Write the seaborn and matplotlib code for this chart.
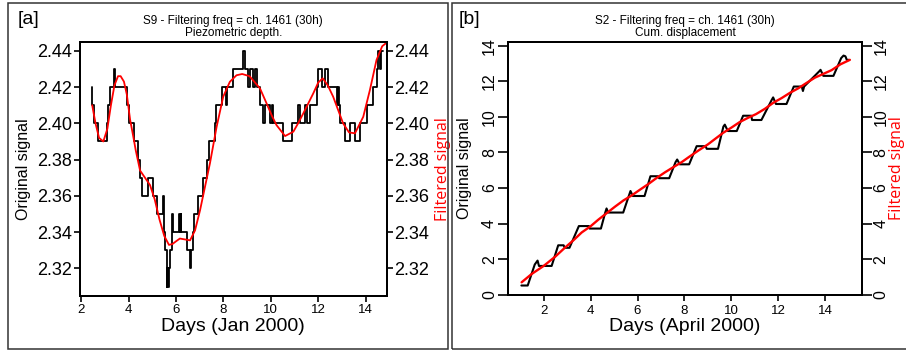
import matplotlib
matplotlib.use("Agg")
import matplotlib.pyplot as plt
import seaborn as sns
import pandas as pd
from matplotlib.patches import Rectangle

# ---------------- data ----------------
# Panel [a] : S9 piezometric depth (original, step signal)
s9_days = [2.44, 2.46, 2.54, 2.69, 3.07, 3.14, 3.21, 3.38, 3.42, 3.92, 4.03, 4.22, 4.41, 4.48, 4.55,
           4.83, 5.04, 5.18, 5.44, 5.48, 5.52, 5.60, 5.63, 5.66, 5.70, 5.74, 5.82, 5.86, 6.12, 6.15,
           6.19, 6.22, 6.45, 6.58, 6.62, 6.70, 6.76, 6.92, 7.13, 7.32, 7.40, 7.64, 7.68, 7.92, 8.10,
           8.16, 8.41, 8.81, 8.91, 9.05, 9.12, 9.26, 9.33, 9.40, 9.54, 9.68, 9.75, 9.96, 10.03, 10.10,
           10.52, 10.88, 11.16, 11.23, 11.44, 11.51, 11.65, 11.93, 12.00, 12.14, 12.28, 12.42, 12.78,
           12.82, 12.87, 12.92, 13.13, 13.34, 13.55, 13.76, 14.04, 14.32, 14.46, 14.53, 14.60, 14.67, 14.72]
s9_vals = [2.42, 2.41, 2.40, 2.39, 2.40, 2.41, 2.42, 2.43, 2.42, 2.41, 2.40, 2.39, 2.38, 2.37, 2.36,
           2.37, 2.36, 2.35, 2.36, 2.34, 2.33, 2.31, 2.32, 2.31, 2.32, 2.33, 2.35, 2.34, 2.35, 2.34,
           2.35, 2.34, 2.33, 2.32, 2.33, 2.34, 2.35, 2.36, 2.37, 2.38, 2.39, 2.40, 2.41, 2.42, 2.41,
           2.42, 2.43, 2.44, 2.43, 2.42, 2.43, 2.42, 2.43, 2.42, 2.41, 2.40, 2.41, 2.40, 2.41, 2.40,
           2.39, 2.40, 2.41, 2.40, 2.41, 2.40, 2.41, 2.42, 2.43, 2.42, 2.43, 2.42, 2.41,
           2.42, 2.41, 2.40, 2.39, 2.40, 2.39, 2.40, 2.41, 2.42, 2.43, 2.44, 2.43, 2.44, 2.44]
# Panel [a] : filtered signal
s9f_days = [2.46, 2.60, 2.75, 2.93, 3.10, 3.25, 3.40, 3.55, 3.66, 3.80, 3.92, 4.06, 4.19, 4.30, 4.48,
            4.69, 4.90, 5.10, 5.30, 5.50, 5.70, 5.85, 6.00, 6.16, 6.38, 6.59, 6.80, 7.01, 7.22, 7.43,
            7.71, 7.99, 8.27, 8.55, 8.79, 9.10, 9.54, 9.82, 10.05, 10.24, 10.60, 10.95, 11.15, 11.37,
            11.79, 12.00, 12.19, 12.40, 12.63, 13.05, 13.30, 13.55, 13.90, 14.18, 14.46, 14.70, 14.89]
s9f_vals = [2.410, 2.400, 2.392, 2.390, 2.397, 2.410, 2.421, 2.426, 2.426, 2.423, 2.416, 2.402, 2.393,
            2.385, 2.374, 2.370, 2.366, 2.358, 2.347, 2.338, 2.333, 2.3335, 2.335, 2.3365, 2.336,
            2.3355, 2.341, 2.352, 2.365, 2.378, 2.398, 2.4147, 2.4229, 2.4265, 2.4272, 2.426, 2.4193,
            2.411, 2.404, 2.399, 2.393, 2.3954, 2.400, 2.4055, 2.4165, 2.4225, 2.4248, 2.421, 2.4147,
            2.400, 2.395, 2.3945, 2.4036, 2.4183, 2.4349, 2.4425, 2.4445]

# Panel [b] : S2 cumulative displacement (original)
s2_days = [1.05, 1.32, 1.62, 1.74, 1.80, 1.88, 2.34, 2.62, 2.85, 2.90, 3.10, 3.50, 3.93, 3.96, 4.44,
           4.62, 4.68, 4.75, 5.39, 5.70, 5.80, 6.30, 6.55, 6.88, 6.92, 7.35, 7.62, 7.69, 7.80, 8.20,
           8.52, 8.90, 8.95, 9.43, 9.66, 9.72, 9.85, 10.23, 10.50, 10.85, 10.88, 11.28, 11.72, 11.78,
           11.90, 12.35, 12.66, 13.00, 13.05, 13.10, 13.74, 13.80, 13.92, 14.35, 14.68, 14.78, 14.86,
           14.92, 15.02]
s2_vals = [0.52, 0.52, 1.70, 1.92, 1.62, 1.62, 1.62, 2.78, 2.78, 2.64, 2.64, 3.86, 3.86, 3.72, 3.72,
           4.60, 4.85, 4.62, 4.62, 5.83, 5.55, 5.55, 6.66, 6.66, 6.55, 6.55, 7.45, 7.60, 7.33, 7.33,
           8.35, 8.35, 8.20, 8.20, 9.45, 9.56, 9.20, 9.20, 10.06, 10.06, 9.82, 9.82, 10.95, 11.09,
           10.72, 10.72, 11.70, 11.70, 11.45, 11.70, 12.55, 12.64, 12.30, 12.30, 13.30, 13.44, 13.40,
           13.20, 13.20]
# Panel [b] : filtered signal
s2f_days = [1.06, 1.48, 2.00, 2.50, 2.91, 3.30, 3.62, 4.00, 4.33, 4.70, 5.04, 5.40, 5.75, 6.10, 6.46,
            6.80, 7.17, 7.50, 7.88, 8.20, 8.59, 9.00, 9.30, 9.65, 10.01, 10.35, 10.72, 11.05, 11.43,
            11.80, 12.14, 12.50, 12.85, 13.20, 13.56, 13.90, 14.27, 14.65, 15.05]
s2f_vals = [0.70, 1.16, 1.62, 2.15, 2.65, 3.10, 3.50, 3.85, 4.22, 4.60, 4.95, 5.30, 5.58, 5.90, 6.22,
            6.55, 6.88, 7.15, 7.45, 7.75, 8.10, 8.45, 8.75, 9.10, 9.40, 9.70, 9.95, 10.15, 10.45,
            10.80, 11.05, 11.35, 11.60, 11.90, 12.20, 12.40, 12.62, 12.95, 13.20]

s9_ticks = [2.32, 2.34, 2.36, 2.38, 2.40, 2.42, 2.44]
s2_ticks = [0, 2, 4, 6, 8, 10, 12, 14]
day_ticks = [2, 4, 6, 8, 10, 12, 14]

# ---------------- figure ----------------
sns.set_theme(style="white")
plt.rcParams['font.family'] = ['Liberation Sans', 'DejaVu Sans']

W, H = 906, 351
fig = plt.figure(figsize=(W / 100, H / 100), dpi=100)
fig.patch.set_facecolor('white')


def fx(px):
    return px / W


def fy(py):
    return 1 - py / H


axL = fig.add_axes([fx(80), fy(295.7), (386.7 - 80) / W, (295.7 - 41.7) / H])
axR = fig.add_axes([fx(508), fy(295.3), (862.3 - 508) / W, (295.3 - 41.7) / H])

# ---- panel a ----
dfa = pd.DataFrame({'day': s9_days, 'val': s9_vals})
dfaf = pd.DataFrame({'day': s9f_days, 'val': s9f_vals})
sns.lineplot(data=dfa, x='day', y='val', ax=axL, color='black', lw=1.3,
             drawstyle='steps-post', estimator=None, sort=False)
axL2 = axL.twinx()
sns.lineplot(data=dfaf, x='day', y='val', ax=axL2, color='red', lw=1.3,
             estimator=None, sort=False)
for a in (axL, axL2):
    a.set_ylim(2.305, 2.445)
    a.set_yticks(s9_ticks)
    a.set_yticklabels([f"{t:.2f}" for t in s9_ticks])
axL.set_xlim(1.945, 14.89)
axL.set_xticks(day_ticks)

# ---- panel b ----
dfb = pd.DataFrame({'day': s2_days, 'val': s2_vals})
dfbf = pd.DataFrame({'day': s2f_days, 'val': s2f_vals})
sns.lineplot(data=dfb, x='day', y='val', ax=axR, color='black', lw=1.5,
             estimator=None, sort=False)
axR2 = axR.twinx()
sns.lineplot(data=dfbf, x='day', y='val', ax=axR2, color='red', lw=1.7,
             estimator=None, sort=False)
for a in (axR, axR2):
    a.set_ylim(-0.03, 14.22)
    a.set_yticks(s2_ticks)
    a.set_yticklabels([str(t) for t in s2_ticks])
axR.set_xlim(0.48, 15.58)
axR.set_xticks(day_ticks)

# ---- common styling ----
for a in (axL, axL2, axR, axR2):
    for sp in a.spines.values():
        sp.set_color('black')
        sp.set_linewidth(1.4)
    a.grid(False)

axL.tick_params(axis='x', bottom=True, direction='out', length=4, width=1.2, color='black',
                labelsize=9.5, pad=2, labelcolor='black')
axR.tick_params(axis='x', bottom=True, direction='out', length=4, width=1.2, color='black',
                labelsize=9.5, pad=3, labelcolor='black')
axL.tick_params(axis='y', left=True, right=False, direction='out', length=4, width=1.2,
                color='black', labelsize=13, pad=2, labelcolor='black')
axL2.tick_params(axis='y', right=True, left=False, direction='out', length=4, width=1.2,
                 color='black', labelsize=13, pad=1.5, labelcolor='black')
axR.tick_params(axis='y', left=True, right=False, direction='out', length=7, width=1.2,
                color='black', labelsize=11.5, pad=1, labelrotation=90, labelcolor='black')
axR2.tick_params(axis='y', right=True, left=False, direction='out', length=7, width=1.2,
                 color='black', labelsize=11.5, pad=1, labelrotation=90, labelcolor='black')
for lab in axR.get_yticklabels() + axR2.get_yticklabels():
    lab.set_va('center')

# axis labels
axL.set_xlabel('Days (Jan 2000)', fontsize=14, color='black')
axR.set_xlabel('Days (April 2000)', fontsize=14, color='black')
for a in (axL, axR):
    a.xaxis.set_label_coords(0.5, -0.122)
    a.xaxis.label.set_va('center')

axL.set_ylabel('Original signal', fontsize=11.5, color='black')
axR.set_ylabel('Original signal', fontsize=11.5, color='black')
axL2.set_ylabel('Filtered signal', fontsize=11.5, color='red', family=['Open Sans', 'DejaVu Sans'])
axR2.set_ylabel('Filtered signal', fontsize=11.5, color='red', family=['Open Sans', 'DejaVu Sans'])
axL.yaxis.set_label_coords(-0.1826, 0.5)
axR.yaxis.set_label_coords(-0.1225, 0.5)
axL2.yaxis.set_label_coords(1.182, 0.5)
axR2.yaxis.set_label_coords(1.098, 0.5)
for a in (axL, axR, axL2, axR2):
    a.yaxis.label.set_va('center')
    a.yaxis.label.set_ha('center')

# titles
fig.text(fx(233.3), fy(20.7), 'S9 - Filtering freq = ch. 1461 (30h)', fontsize=8.5,
         ha='center', va='center', color='black')
fig.text(fx(233.3), fy(33.0), 'Piezometric depth.', fontsize=8.5, ha='center', va='center', color='black')
fig.text(fx(685.2), fy(20.7), 'S2 - Filtering freq = ch. 1461 (30h)', fontsize=8.5,
         ha='center', va='center', color='black')
fig.text(fx(685.2), fy(33.0), 'Cum. displacement', fontsize=8.5, ha='center', va='center', color='black')

# panel letters
fig.text(fx(18), fy(20), '[a]', fontsize=14, ha='left', va='center', color='black')
fig.text(fx(459), fy(20), '[b]', fontsize=14, ha='left', va='center', color='black')

# panel frames
fig.add_artist(Rectangle((fx(8), fy(349)), (448 - 8) / W, (349 - 3) / H, transform=fig.transFigure,
                         fill=False, ec='#333333', lw=1.1))
fig.add_artist(Rectangle((fx(452), fy(349)), (912 - 452) / W, (349 - 3) / H, transform=fig.transFigure,
                         fill=False, ec='#333333', lw=1.1))

fig.savefig('out.png', dpi=100, facecolor='white')
